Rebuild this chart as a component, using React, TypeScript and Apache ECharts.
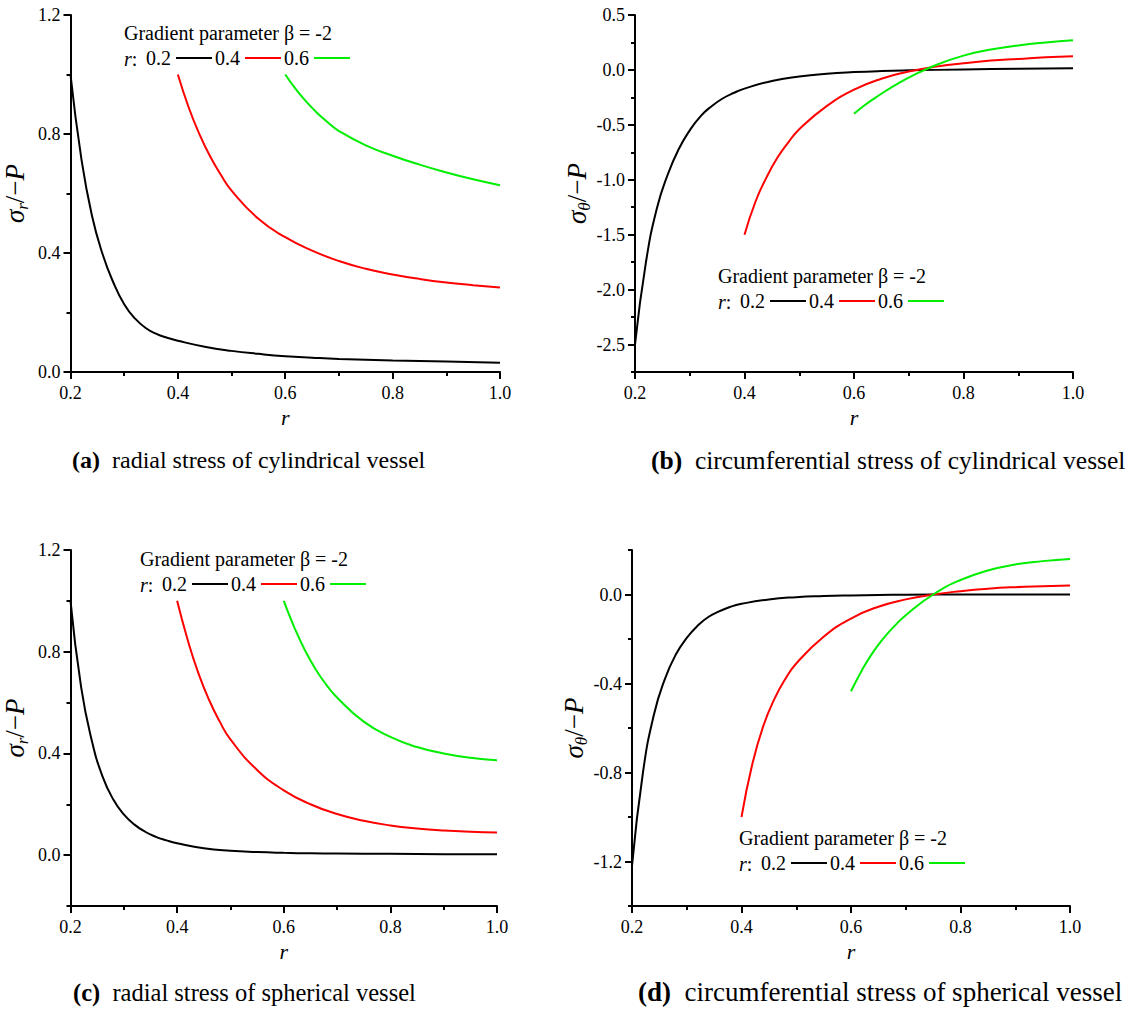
import React, { useEffect, useRef } from "react";
import * as echarts from "echarts";

const FONT = "Liberation Serif";

// r grids
const rFrom02 = [0.2, 0.22, 0.24, 0.26, 0.28, 0.3, 0.32, 0.34, 0.36, 0.38, 0.4, 0.45, 0.5, 0.55, 0.6, 0.65, 0.7, 0.8, 0.9, 1.0];
const rFrom04 = [0.4, 0.42, 0.44, 0.46, 0.48, 0.5, 0.55, 0.6, 0.65, 0.7, 0.75, 0.8, 0.85, 0.9, 0.95, 1.0];
const rFrom06 = [0.6, 0.62, 0.64, 0.66, 0.68, 0.7, 0.75, 0.8, 0.85, 0.9, 0.95, 1.0];

// (a) radial stress, cylindrical
const aBlack = [1.0, 0.72, 0.525, 0.395, 0.3, 0.228, 0.18, 0.148, 0.128, 0.115, 0.105, 0.085, 0.071, 0.061, 0.053, 0.048, 0.044, 0.039, 0.035, 0.031];
const aRed = [1.0, 0.89, 0.8, 0.725, 0.663, 0.61, 0.515, 0.453, 0.408, 0.373, 0.347, 0.328, 0.313, 0.301, 0.292, 0.284];
const aGreen = [1.0, 0.95, 0.907, 0.87, 0.838, 0.81, 0.762, 0.727, 0.697, 0.671, 0.648, 0.628];

// (b) circumferential stress, cylindrical
const bBlack = [-2.5, -1.75, -1.26, -0.95, -0.72, -0.55, -0.42, -0.33, -0.26, -0.21, -0.17, -0.1, -0.06, -0.035, -0.02, -0.01, -0.004, 0.004, 0.01, 0.015];
const bRed = [-1.5, -1.2, -0.98, -0.8, -0.66, -0.54, -0.33, -0.18, -0.08, -0.015, 0.03, 0.06, 0.085, 0.1, 0.115, 0.125];
const bGreen = [-0.4, -0.32, -0.25, -0.185, -0.125, -0.07, 0.045, 0.13, 0.185, 0.223, 0.25, 0.27];

// (c) radial stress, spherical
const cBlack = [1.0, 0.66, 0.45, 0.31, 0.22, 0.16, 0.12, 0.092, 0.072, 0.058, 0.047, 0.027, 0.017, 0.012, 0.009, 0.007, 0.006, 0.005, 0.004, 0.004];
const cRed = [1.0, 0.845, 0.715, 0.61, 0.525, 0.455, 0.335, 0.255, 0.2, 0.162, 0.135, 0.117, 0.105, 0.097, 0.092, 0.089];
const cGreen = [1.0, 0.895, 0.805, 0.73, 0.67, 0.62, 0.525, 0.465, 0.425, 0.4, 0.383, 0.373];

// (d) circumferential stress, spherical
const dBlack = [-1.22, -0.8, -0.54, -0.38, -0.27, -0.195, -0.14, -0.1, -0.075, -0.055, -0.042, -0.022, -0.012, -0.007, -0.004, -0.002, -0.001, 0, 0, 0];
const dRed = [-1.0, -0.76, -0.59, -0.47, -0.38, -0.31, -0.19, -0.108, -0.055, -0.022, 0.0, 0.015, 0.026, 0.033, 0.037, 0.04];
const dGreen = [-0.435, -0.34, -0.26, -0.195, -0.14, -0.093, 0.0, 0.065, 0.108, 0.135, 0.15, 0.16];

const xTicks = [0.2, 0.4, 0.6, 0.8, 1.0];
const legendNames = ["0.2", "0.4", "0.6"];
const lineColors = ["#000000", "#ff0000", "#00ee00"];
const legendTitle = "Gradient parameter \u03b2 = -2";

type Panel = {
  grid: { left: number; top: number; width: number; height: number };
  yMin: number;
  yMax: number;
  yMinor: number;
  yMajors: number[];
  yName: string;
  series: number[][];
  legend: { x: number; y: number; left: number };
  caption: { x: number; y: number; size: number; tag: string; text: string };
};

const panels: Panel[] = [
  {
    grid: { left: 67, top: 15, width: 433, height: 357 },
    yMin: 0, yMax: 1.2, yMinor: 0.2, yMajors: [0, 0.4, 0.8, 1.2],
    yName: "r",
    series: [aBlack, aRed, aGreen],
    legend: { x: 124, y: 33, left: 146 },
    caption: { x: 72, y: 460, size: 24, tag: "(a)", text: "radial stress of cylindrical vessel" },
  },
  {
    grid: { left: 635, top: 15, width: 438, height: 357 },
    yMin: -2.75, yMax: 0.5, yMinor: 0.25, yMajors: [-2.5, -2, -1.5, -1, -0.5, 0, 0.5],
    yName: "\u03b8",
    series: [bBlack, bRed, bGreen],
    legend: { x: 718, y: 276, left: 740 },
    caption: { x: 651, y: 460, size: 25.5, tag: "(b)", text: "circumferential stress of cylindrical vessel" },
  },
  {
    grid: { left: 63, top: 550, width: 434, height: 356 },
    yMin: -0.2, yMax: 1.2, yMinor: 0.2, yMajors: [0, 0.4, 0.8, 1.2],
    yName: "r",
    series: [cBlack, cRed, cGreen],
    legend: { x: 140, y: 559, left: 162 },
    caption: { x: 73, y: 992, size: 24.5, tag: "(c)", text: "radial stress of spherical vessel" },
  },
  {
    grid: { left: 632, top: 550, width: 438, height: 356 },
    yMin: -1.4, yMax: 0.2, yMinor: 0.2, yMajors: [-1.2, -0.8, -0.4, 0],
    yName: "\u03b8",
    series: [dBlack, dRed, dGreen],
    legend: { x: 739, y: 838, left: 761 },
    caption: { x: 638, y: 992, size: 27, tag: "(d)", text: "circumferential stress of spherical vessel" },
  },
];

const rGrids = [rFrom02, rFrom04, rFrom06];

function fmt(v: number) {
  return (Math.round(v * 10) / 10).toFixed(1);
}

function buildOption() {
  const grid: any[] = [];
  const xAxis: any[] = [];
  const yAxis: any[] = [];
  const series: any[] = [];
  const legend: any[] = [];
  const graphic: any[] = [];

  panels.forEach((p, i) => {
    grid.push({ ...p.grid, containLabel: false });
    xAxis.push({
      type: "value",
      gridIndex: i,
      min: 0.2,
      max: 1.0,
      interval: 0.2,
      name: "r",
      nameLocation: "middle",
      nameGap: 34,
      nameTextStyle: { fontFamily: FONT, fontSize: 22, fontStyle: "italic", color: "#000" },
      axisLine: { show: true, onZero: false, lineStyle: { color: "#000", width: 2 } },
      axisTick: { show: true, length: 7, lineStyle: { color: "#000", width: 2 } },
      minorTick: { show: true, splitNumber: 2, length: 4, lineStyle: { color: "#000", width: 2 } },
      axisLabel: { fontFamily: FONT, fontSize: 18, color: "#000", margin: 12, formatter: (v: number) => fmt(v), customValues: xTicks },
      splitLine: { show: false },
      minorSplitLine: { show: false },
    });
    yAxis.push({
      type: "value",
      gridIndex: i,
      position: "left",
      min: p.yMin,
      max: p.yMax,
      interval: p.yMinor,
      axisLine: { show: true, onZero: false, lineStyle: { color: "#000", width: 2 } },
      axisTick: { show: true, length: 4, lineStyle: { color: "#000", width: 2 } },
      axisLabel: { show: false },
      splitLine: { show: false },
    });
    yAxis.push({
      type: "value",
      gridIndex: i,
      position: "left",
      offset: 0,
      min: p.yMin,
      max: p.yMax,
      interval: p.yMinor,
      name: `{s|\u03c3}{sub|${p.yName}}{n|/\u2212}{s|P}`,
      nameLocation: "middle",
      nameGap: 40,
      nameTextStyle: {
        fontFamily: FONT,
        fontSize: 27,
        color: "#000",
        rich: {
          s: { fontFamily: FONT, fontSize: 27, fontStyle: "italic", color: "#000", lineHeight: 32 },
          n: { fontFamily: FONT, fontSize: 27, color: "#000", lineHeight: 32 },
          sub: { fontFamily: FONT, fontSize: 17, fontStyle: "italic", color: "#000", lineHeight: 14, verticalAlign: "bottom" },
        },
      },
      axisLine: { show: false },
      axisTick: { show: true, length: 7, customValues: p.yMajors, lineStyle: { color: "#000", width: 2 } },
      axisLabel: { fontFamily: FONT, fontSize: 18, color: "#000", margin: 10, customValues: p.yMajors, formatter: (v: number) => fmt(v) },
      splitLine: { show: false },
    });

    p.series.forEach((vals, k) => {
      const rs = rGrids[k];
      series.push({
        type: "line",
        name: legendNames[k],
        xAxisIndex: i,
        yAxisIndex: 2 * i,
        data: rs.map((r, j) => [r, vals[j]]),
        showSymbol: false,
        symbol: "none",
        smooth: 0.5,
        color: lineColors[k],
        lineStyle: { color: lineColors[k], width: 2 },
        clip: true,
        z: 3,
      });
    });

    legend.push({
      left: p.legend.left,
      top: p.legend.y + 26 - 11,
      orient: "horizontal",
      align: "right",
      icon: "rect",
      itemWidth: 36,
      itemHeight: 2,
      itemGap: 3,
      padding: 0,
      selectedMode: false,
      data: legendNames,
      textStyle: { fontFamily: FONT, fontSize: 20, color: "#000" },
    });

    graphic.push({
      type: "text",
      x: p.legend.x,
      y: p.legend.y,
      style: { text: legendTitle, fontFamily: FONT, fontSize: 20, fill: "#000", verticalAlign: "middle", align: "left" },
    });
    graphic.push({
      type: "text",
      x: p.legend.x,
      y: p.legend.y + 26,
      style: {
        text: "{i|r}:",
        fontFamily: FONT,
        fontSize: 20,
        fill: "#000",
        verticalAlign: "middle",
        align: "left",
        rich: { i: { fontFamily: FONT, fontSize: 20, fontStyle: "italic", fill: "#000" } },
      },
    });
    graphic.push({
      type: "text",
      x: p.caption.x,
      y: p.caption.y,
      style: {
        text: `{b|${p.caption.tag}}\u00a0\u00a0${p.caption.text}`,
        fontFamily: FONT,
        fontSize: p.caption.size,
        fill: "#000",
        verticalAlign: "middle",
        align: "left",
        rich: { b: { fontFamily: FONT, fontSize: p.caption.size, fontWeight: "bold", fill: "#000" } },
      },
    });
  });

  return {
    animation: false,
    backgroundColor: "#ffffff",
    textStyle: { fontFamily: FONT },
    grid,
    xAxis,
    yAxis,
    series,
    legend,
    graphic,
  };
}

export default function App() {
  const ref = useRef<HTMLDivElement | null>(null);
  useEffect(() => {
    if (!ref.current) return;
    const chart = echarts.init(ref.current, undefined, { renderer: "svg" });
    chart.setOption(buildOption() as any);
    return () => chart.dispose();
  }, []);
  return (
    <div
      ref={ref}
      style={{ position: "absolute", left: 0, top: 0, width: 1143, height: 1011, background: "#fff" }}
    />
  );
}
